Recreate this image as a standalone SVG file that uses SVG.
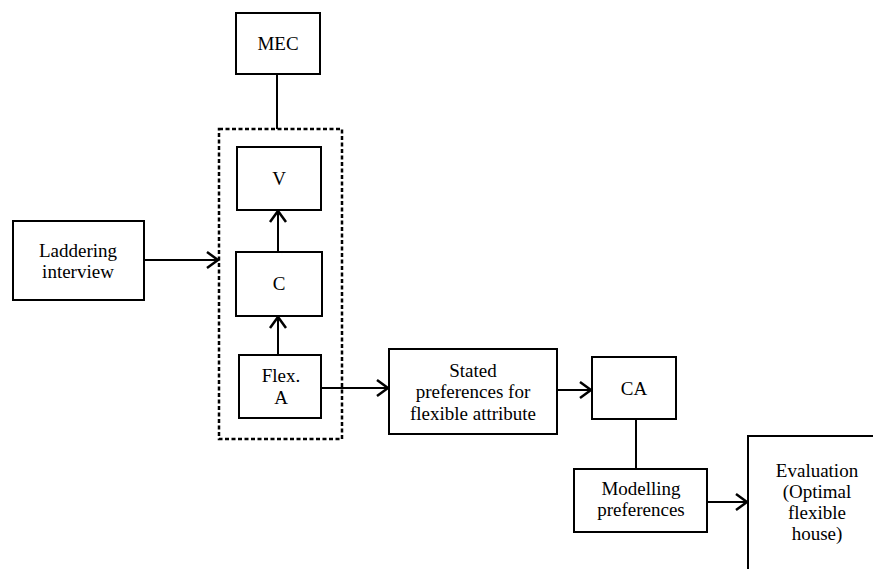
<svg xmlns="http://www.w3.org/2000/svg" width="873" height="569" viewBox="0 0 873 569">
<style>
.box{fill:#fff;stroke:#000;stroke-width:2}
.ln{fill:none;stroke:#000;stroke-width:2}
.dash{fill:none;stroke:#000;stroke-width:2.5;stroke-dasharray:4 2.5}
text{font-family:"Liberation Serif","Times New Roman",serif;font-size:19px;fill:#000;text-anchor:middle}
</style>
<defs>
<marker id="arr" markerUnits="userSpaceOnUse" markerWidth="20" markerHeight="20" viewBox="-12 -10 14 20" refX="0" refY="0" orient="auto">
<polyline points="-11,-8 0,0 -11,8" fill="none" stroke="#000" stroke-width="2.5"/>
</marker>
</defs>
<rect width="873" height="569" fill="#fff"/>
<g id="connectors">
<line class="ln" x1="277" y1="74" x2="277" y2="129"/>
<line class="ln" x1="144" y1="260" x2="218" y2="260" marker-end="url(#arr)"/>
<line class="ln" x1="278" y1="252" x2="278" y2="211" marker-end="url(#arr)"/>
<line class="ln" x1="278" y1="355" x2="278" y2="317" marker-end="url(#arr)"/>
<line class="ln" x1="321" y1="388" x2="388" y2="388" marker-end="url(#arr)"/>
<line class="ln" x1="557" y1="390" x2="591" y2="390" marker-end="url(#arr)"/>
<line class="ln" x1="636" y1="419" x2="636" y2="469"/>
<line class="ln" x1="707" y1="502" x2="747" y2="502" marker-end="url(#arr)"/>
</g>
<g id="group-box"><rect class="dash" x="219" y="129" width="123" height="310"/></g>
<g id="mec"><rect class="box" x="236" y="13" width="84" height="61"/><text x="278" y="50">MEC</text></g>
<g id="v"><rect class="box" x="237" y="147" width="84" height="63"/><text x="279" y="185">V</text></g>
<g id="c"><rect class="box" x="236" y="252" width="86" height="64"/><text x="279" y="290">C</text></g>
<g id="flex"><rect class="box" x="239" y="355" width="82" height="63"/><text x="281" y="382">Flex.</text><text x="281" y="404">A</text></g>
<g id="laddering"><rect class="box" x="13" y="221" width="131" height="79"/><text x="78" y="257">Laddering</text><text x="78" y="278">interview</text></g>
<g id="stated"><rect class="box" x="389" y="349" width="168" height="85"/><text x="473" y="377">Stated</text><text x="473" y="398">preferences for</text><text x="473" y="420">flexible attribute</text></g>
<g id="ca"><rect class="box" x="592" y="357" width="84" height="62"/><text x="634" y="395">CA</text></g>
<g id="modelling"><rect class="box" x="574" y="469" width="133" height="63"/><text x="641" y="495">Modelling</text><text x="641" y="516">preferences</text></g>
<g id="evaluation"><rect class="box" x="748" y="436" width="200" height="200"/><text x="817" y="477">Evaluation</text><text x="817" y="498">(Optimal</text><text x="817" y="519">flexible</text><text x="817" y="540">house)</text></g>
</svg>
